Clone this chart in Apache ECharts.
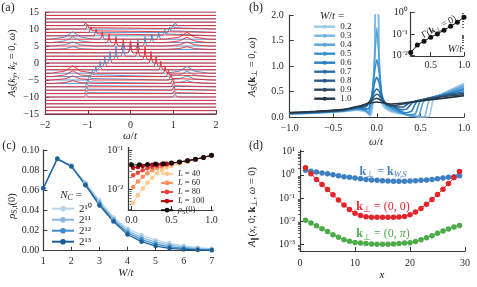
<!DOCTYPE html>
<html><head><meta charset="utf-8">
<script src="https://cdn.jsdelivr.net/npm/echarts@6/dist/echarts.min.js"></script>
<style>html,body{margin:0;padding:0;background:#fff}#c{width:477px;height:287px}</style>
</head><body><div id="c"></div>
<script>
// ---------------- Panel (a) ----------------
const aOffsets = [15,14,13,12,11,10,9,8,7,6,5,4,3,2,1,0,-1,-2,-3,-4,-5,-6,-7,-8,-9,-10,-11,-12,-13,-14,-15];
// [offset, omega, height, half-width]
const aRedPeaks = [
 [11,-1.05,0.8,0.045],[10,-1.0,1.3,0.05],[9,-0.92,1.6,0.05],[8,-0.8,1.9,0.05],[7,-0.66,2.2,0.05],
 [6,-0.5,2.5,0.05],[5,-0.34,2.8,0.05],[4,-0.17,3.1,0.05],[3,0.0,3.5,0.05],[2,0.17,3.9,0.05],
 [1,0.34,4.0,0.05],[0,0.48,3.4,0.05],[-1,0.6,2.9,0.05],[-2,0.71,2.5,0.05],[-3,0.81,2.1,0.05],
 [-4,0.89,1.8,0.05],[-5,0.95,1.5,0.05],[-6,0.99,1.3,0.05],[-7,1.01,1.1,0.055],[-8,1.02,1.0,0.055],
 [-9,1.03,0.9,0.055],[-10,1.04,0.8,0.055],
 [-3,-1.35,2.2,0.5],[-4,-1.35,1.7,0.5],[-5,-1.35,1.2,0.5],[-6,-1.35,0.8,0.5],
 [7,1.32,2.0,0.5],[6,1.32,1.6,0.5],[5,1.32,1.2,0.5],[4,1.32,0.8,0.5]
];
const aBluePeaks = [
 [11,1.05,0.8,0.045],[10,1.0,1.3,0.05],[9,0.92,1.6,0.05],[8,0.8,1.9,0.05],[7,0.66,2.2,0.05],
 [6,0.5,2.5,0.05],[5,0.34,2.8,0.05],[4,0.17,3.1,0.05],[3,0.0,3.5,0.05],[2,-0.17,3.9,0.05],
 [1,-0.34,4.0,0.05],[0,-0.48,3.4,0.05],[-1,-0.6,2.9,0.05],[-2,-0.71,2.5,0.05],[-3,-0.81,2.1,0.05],
 [-4,-0.89,1.8,0.05],[-5,-0.95,1.5,0.05],[-6,-0.99,1.3,0.05],[-7,-1.01,1.1,0.055],[-8,-1.02,1.0,0.055],
 [-9,-1.03,0.9,0.055],[-10,-1.04,0.8,0.055],
 [7,-1.35,2.2,0.5],[6,-1.35,1.7,0.5],[5,-1.35,1.2,0.5],[4,-1.35,0.8,0.5],
 [-3,1.32,2.0,0.5],[-4,1.32,1.6,0.5],[-5,1.32,1.2,0.5],[-6,1.32,0.8,0.5]
];
const peakShape = [[-1,0],[-0.35,0.3],[0,1],[0.35,0.3],[1,0]];

// ---------------- Panel (b) ----------------
const bW = ['0.2','0.3','0.4','0.5','0.6','0.7','0.8','0.9','1.0'];
const bColors = ['#9ccaea','#7ab7e2','#58a3d9','#3b91d0','#2781c4','#2a6ea4','#2d5b84','#2c4864','#263545'];
const bW02 = [[-1,0.06],[-0.7,0.08],[-0.4,0.11],[-0.22,0.14],[-0.12,0.1],[-0.07,0.03],[-0.04,0.3],[-0.02,1.6],[0,6],[0.02,1.6],[0.04,0.35],[0.08,0.2],[0.15,0.12],[0.3,0.06],[0.5,0.01],[0.6,0.02],[0.65,0.35],[0.8,0.5],[1,0.66]];
const bW03 = [[-1,0.065],[-0.7,0.085],[-0.4,0.115],[-0.22,0.15],[-0.12,0.12],[-0.08,0.04],[-0.05,0.3],[-0.025,1.4],[0,4],[0.025,1.4],[0.05,0.35],[0.09,0.22],[0.15,0.14],[0.3,0.07],[0.46,0.01],[0.55,0.02],[0.6,0.33],[0.8,0.49],[1,0.63]];
const bW04 = [[-1,0.07],[-0.7,0.09],[-0.4,0.12],[-0.22,0.16],[-0.13,0.13],[-0.09,0.06],[-0.06,0.3],[-0.03,1.0],[0,1.75],[0.03,1.0],[0.06,0.35],[0.1,0.24],[0.16,0.16],[0.28,0.08],[0.4,0.02],[0.48,0.03],[0.54,0.32],[0.8,0.48],[1,0.6]];
const bW05 = [[-1,0.072],[-0.7,0.093],[-0.4,0.125],[-0.22,0.17],[-0.14,0.15],[-0.1,0.1],[-0.06,0.4],[-0.03,0.85],[0,1.13],[0.03,0.85],[0.06,0.4],[0.1,0.25],[0.17,0.18],[0.27,0.1],[0.36,0.05],[0.44,0.06],[0.5,0.32],[0.8,0.46],[1,0.57]];
const bW06 = [[-1,0.075],[-0.7,0.097],[-0.4,0.13],[-0.22,0.18],[-0.14,0.17],[-0.1,0.16],[-0.06,0.4],[-0.03,0.65],[0,0.78],[0.03,0.65],[0.06,0.42],[0.1,0.26],[0.18,0.2],[0.26,0.13],[0.33,0.09],[0.4,0.12],[0.46,0.31],[0.8,0.45],[1,0.54]];
const bW07 = [[-1,0.08],[-0.7,0.1],[-0.4,0.135],[-0.2,0.19],[-0.12,0.21],[-0.07,0.35],[-0.03,0.5],[0,0.55],[0.03,0.5],[0.07,0.35],[0.12,0.25],[0.2,0.2],[0.28,0.15],[0.34,0.16],[0.42,0.3],[0.8,0.44],[1,0.5]];
const bW08 = [[-1,0.085],[-0.7,0.105],[-0.4,0.14],[-0.2,0.2],[-0.12,0.24],[-0.06,0.36],[-0.03,0.42],[0,0.45],[0.03,0.42],[0.07,0.33],[0.12,0.25],[0.2,0.21],[0.3,0.2],[0.38,0.29],[0.8,0.43],[1,0.47]];
const bW09 = [[-1,0.09],[-0.7,0.11],[-0.4,0.145],[-0.2,0.21],[-0.1,0.28],[-0.05,0.34],[0,0.37],[0.05,0.33],[0.1,0.27],[0.2,0.23],[0.3,0.26],[0.5,0.33],[0.8,0.41],[1,0.44]];
const bW10 = [[-1,0.095],[-0.7,0.115],[-0.4,0.15],[-0.2,0.22],[-0.1,0.27],[0,0.3],[0.08,0.28],[0.15,0.26],[0.3,0.28],[0.5,0.32],[0.8,0.38],[1,0.42]];
const bCurves = [bW02,bW03,bW04,bW05,bW06,bW07,bW08,bW09,bW10];
const bInsetW = [0.2,0.3,0.4,0.5,0.6,0.7,0.8,0.9,1.0];
const bInsetGamma = [0.013,0.03,0.045,0.07,0.1,0.15,0.23,0.36,0.62];

// ---------------- Panel (c) ----------------
const cW = [1,1.5,2,2.5,3,3.5,4,4.5,5,5.5,6,6.5,7];
const cNames = ['2¹⁰','2¹¹','2¹²','2¹³'];
const cColors = ['#b9d3ea','#86b7de','#3d8dca','#1c5e98'];
const cN10 = [0.062,0.0912,0.0848,0.0675,0.050,0.033,0.022,0.0155,0.0105,0.0073,0.0048,0.0030,0.0020];
const cN11 = [0.062,0.0912,0.0843,0.0665,0.048,0.0315,0.020,0.013,0.0085,0.0055,0.0035,0.0021,0.0013];
const cN12 = [0.062,0.0912,0.0839,0.0657,0.0465,0.030,0.018,0.011,0.0065,0.0038,0.0023,0.0013,0.0008];
const cN13 = [0.062,0.0912,0.0836,0.065,0.045,0.029,0.016,0.009,0.0046,0.0023,0.0013,0.0008,0.0005];
const cSeries = [cN10,cN11,cN12,cN13];
const cInsetX = [0.02,0.08,0.14,0.2,0.26,0.32,0.38,0.44,0.5,0.6,0.7,0.8,0.9,1.0];
const cL40 = [0.0045,0.007,0.0105,0.015,0.02,0.026,0.031,0.036,0.04,0.046,0.052,0.059,0.067,0.076];
const cL60 = [0.0115,0.016,0.021,0.026,0.031,0.035,0.039,0.042,0.045,0.05,0.055,0.06,0.067,0.076];
const cL80 = [0.023,0.027,0.031,0.035,0.038,0.041,0.043,0.045,0.047,0.051,0.055,0.06,0.067,0.076];
const cL100 = [0.036,0.038,0.04,0.042,0.043,0.044,0.045,0.046,0.048,0.051,0.055,0.06,0.067,0.076];
const cInsetNames = ['L40','L60','L80','L100'];
const cInsetColors = ['#fdca8b','#fc8e5a','#e8453c','#b5000f'];
const cInsetSeries = [cL40,cL60,cL80,cL100];
const cRhoX = [0,0.1,0.2,0.3,0.4,0.5,0.6,0.7,0.8,0.9,1.0];
const cRho = [0.043,0.043,0.044,0.045,0.046,0.048,0.051,0.055,0.06,0.067,0.076];

// ---------------- Panel (d) ----------------
const dX = [1,2,3,4,5,6,7,8,9,10,11,12,13,14,15,16,17,18,19,20,21,22,23,24,25,26,27,28,29];
const dBlue = [1.58,1.41,1.32,1.2,1.1,1.0,0.91,0.83,0.78,0.72,0.68,0.63,0.6,0.575,0.55,0.537,0.525,0.525,0.525,0.537,0.55,0.575,0.6,0.63,0.68,0.72,0.78,0.83,0.91];
const dRed = [2.0,1.12,0.63,0.38,0.23,0.138,0.081,0.05,0.0316,0.022,0.0174,0.0155,0.0148,0.0145,0.0145,0.0145,0.0148,0.0151,0.0158,0.019,0.025,0.035,0.054,0.085,0.141,0.24,0.417,0.76,1.38];
const dGreen = [0.011,0.0083,0.0063,0.0047,0.00355,0.0026,0.002,0.00158,0.00135,0.0012,0.00112,0.00107,0.00102,0.001,0.001,0.001,0.00102,0.00107,0.00112,0.00117,0.00132,0.00158,0.0019,0.00234,0.00295,0.0037,0.00457,0.0055,0.00646];

// ---------------- helpers ----------------
const FONT = 'Liberation Serif';
const TXT = '#262626';
const AX = '#3a3a3a';
const SUPC = {'-':'⁻','0':'⁰','1':'¹','2':'²','3':'³','4':'⁴','5':'⁵','6':'⁶','7':'⁷','8':'⁸','9':'⁹'};
const minus = s => String(s).replace('-', '−');
const logLab = v => '10' + String(Math.round(Math.log10(v))).split('').map(c => SUPC[c]).join('');
const lab = (fmt, margin, fs) => ({show:true, formatter: fmt, margin: margin, fontFamily: FONT, fontSize: fs || 10, color: TXT});
const line = {show:true, onZero:false, lineStyle:{color:AX, width:1.2}};
const tick = {show:true, inside:true, length:4, lineStyle:{color:AX, width:1}};
function minorList(lo, hi){ const r=[]; for(let e=-5;e<=1;e++){ for(let m=2;m<=9;m++){ const v=m*Math.pow(10,e); if(v>lo&&v<hi) r.push(v);} } return r; }
function rs(fs, extra){ return Object.assign({fontFamily:FONT, fontSize:fs, fill:TXT, color:TXT}, extra||{}); }
function richSet(fs, color){
  const c = color ? {fill:color,color:color} : {};
  const sf = fs*0.72;
  return {
    n: rs(fs,c), i: rs(fs,Object.assign({fontStyle:'italic'},c)), b: rs(fs,Object.assign({fontWeight:'bold'},c)),
    s: rs(sf,Object.assign({padding:[Math.round(fs*0.55),0,0,0]},c)),
    si: rs(sf,Object.assign({fontStyle:'italic',padding:[Math.round(fs*0.55),0,0,0]},c))
  };
}
function T(x, y, text, fs, opt){
  opt = opt || {};
  return {type:'text', x:x, y:y, rotation: opt.rot || 0, z: 100,
    style:{text:text, fontFamily:FONT, fontSize:fs, fill: opt.color || TXT, align:'center', verticalAlign:'middle', rich: richSet(fs, opt.color)}};
}
function buildTrace(o, peaks){
  const pts = [[-2, o]];
  peaks.filter(p => p[0] === o).sort((p,q) => p[1]-q[1]).forEach(p => {
    peakShape.forEach(s => pts.push([p[1] + s[0]*p[3], o + s[1]*p[2]]));
  });
  pts.push([2, o]);
  return pts;
}

const series = [];
const base = {type:'line', symbol:'none', animation:false, silent:true};
aOffsets.forEach(o => {
  series.push(Object.assign({}, base, {xAxisIndex:0, yAxisIndex:0, data: buildTrace(o, aBluePeaks), lineStyle:{color:'#4a86c5', width:0.9}}));
  series.push(Object.assign({}, base, {xAxisIndex:0, yAxisIndex:0, data: buildTrace(o, aRedPeaks), lineStyle:{color:'#e5262d', width:0.9}}));
});
bCurves.forEach((c,k) => series.push(Object.assign({}, base, {name: bW[k], xAxisIndex:1, yAxisIndex:1, data: c, smooth:0.15, color: bColors[k], lineStyle:{color:bColors[k], width:1.6}})));
series.push({type:'line', xAxisIndex:2, yAxisIndex:2, animation:false, data: bInsetW.map((w,k)=>[w,bInsetGamma[k]]), symbol:'circle', symbolSize:5, color:'#111', lineStyle:{color:'#111', width:1}, itemStyle:{color:'#111'}});
cSeries.forEach((s,k) => series.push({type:'line', name:cNames[k], xAxisIndex:3, yAxisIndex:3, animation:false, data: cW.map((w,j)=>[w,s[j]]), symbol:'circle', symbolSize:4.5, color:cColors[k], lineStyle:{color:cColors[k], width:1.2}, itemStyle:{color:cColors[k]}}));
cInsetSeries.forEach((s,k) => series.push({type:'line', name:cInsetNames[k], xAxisIndex:4, yAxisIndex:4, animation:false, data: cInsetX.map((x,j)=>[x,s[j]]), symbol:'circle', symbolSize:4.5, color:cInsetColors[k], lineStyle:{color:cInsetColors[k], width:1}, itemStyle:{color:cInsetColors[k]}}));
series.push({type:'line', name:'rho', xAxisIndex:4, yAxisIndex:4, animation:false, data: cRhoX.map((x,j)=>[x,cRho[j]]), symbol:'circle', symbolSize:5, color:'#111', lineStyle:{color:'#111', width:1}, itemStyle:{color:'#111'}});
[[dBlue,'#3d7fc1'],[dRed,'#e3242b'],[dGreen,'#4daa48']].forEach(([s,col]) => series.push({type:'line', xAxisIndex:5, yAxisIndex:5, animation:false, data: dX.map((x,j)=>[x,s[j]]), symbol:'circle', symbolSize:5.5, color:col, lineStyle:{color:col, width:1}, itemStyle:{color:col}}));

const G = (l,t,w,h,extra) => Object.assign({left:l, top:t, width:w, height:h, outerBoundsMode:'none', containLabel:false}, extra||{});
const grids = [
  G(45,12,171,102),
  G(289.7,15,174.3,102.3),
  G(410.7,12.3,53.3,43.7),
  G(43.3,150,168.4,100.7),
  G(128.3,147.3,84.8,62.7,{show:true, backgroundColor:'#fff', borderWidth:0}),
  G(300,150,165,101)
];
const xAxes = [
  {gridIndex:0, type:'value', min:-2, max:2, interval:1, axisLine:line, axisTick:tick, splitLine:{show:false}, axisLabel:lab(v=>minus(v),6)},
  {gridIndex:1, type:'value', min:-1, max:1, interval:0.5, axisLine:line, axisTick:tick, splitLine:{show:false}, axisLabel:lab(v=>minus(v.toFixed(1)),6)},
  {gridIndex:2, type:'value', min:0.2, max:1.0, axisLine:line, axisTick:Object.assign({},tick,{customValues:[0.5,1.0]}), splitLine:{show:false}, axisLabel:Object.assign(lab(v=>v.toFixed(1),4),{customValues:[0.5,1.0]})},
  {gridIndex:3, type:'value', min:1, max:7, interval:1, axisLine:line, axisTick:tick, splitLine:{show:false}, axisLabel:lab(v=>String(v),6)},
  {gridIndex:4, type:'value', min:-0.04, max:1.02, axisLine:line, axisTick:Object.assign({},tick,{customValues:[0,0.5,1.0]}), splitLine:{show:false}, axisLabel:Object.assign(lab(v=>v.toFixed(1),5),{customValues:[0,0.5,1.0]})},
  {gridIndex:5, type:'value', min:0, max:30, interval:10, axisLine:line, axisTick:tick, splitLine:{show:false}, axisLabel:lab(v=>String(v),7)}
];
const yAxes = [
  {gridIndex:0, type:'value', min:-15, max:15, interval:5, axisLine:line, axisTick:tick, splitLine:{show:false}, axisLabel:lab(v=>minus(v),6)},
  {gridIndex:1, type:'value', min:0, max:2, interval:0.5, axisLine:line, axisTick:tick, splitLine:{show:false}, axisLabel:lab(v=>v.toFixed(1),6)},
  {gridIndex:2, type:'log', min:0.009, max:1.05, axisLine:line, axisTick:Object.assign({},tick,{customValues:[0.01,0.1,1]}), splitLine:{show:false}, axisLabel:Object.assign(lab(logLab,3),{customValues:[0.01,0.1,1]})},
  {gridIndex:3, type:'value', min:0, max:0.1, interval:0.02, axisLine:line, axisTick:tick, splitLine:{show:false}, axisLabel:lab(v=>v.toFixed(2),4)},
  {gridIndex:4, type:'log', min:0.0029, max:0.1225, axisLine:line, axisTick:Object.assign({},tick,{customValues:[0.01,0.1]}), splitLine:{show:false}, axisLabel:Object.assign(lab(logLab,5),{customValues:[0.01,0.1]})},
  {gridIndex:5, type:'log', min:0.00051, max:11.8, axisLine:line, axisTick:Object.assign({},tick,{customValues:[0.001,0.01,0.1,1,10]}), splitLine:{show:false}, axisLabel:Object.assign(lab(logLab,5),{customValues:[0.001,0.01,0.1,1,10]})},
  {gridIndex:2, type:'log', min:0.009, max:1.05, axisLine:{show:false}, axisLabel:{show:false}, splitLine:{show:false}, axisTick:{show:true, inside:true, length:2, lineStyle:{color:AX,width:0.8}, customValues:minorList(0.009,1.05)}},
  {gridIndex:4, type:'log', min:0.0029, max:0.1225, axisLine:{show:false}, axisLabel:{show:false}, splitLine:{show:false}, axisTick:{show:true, inside:true, length:2, lineStyle:{color:AX,width:0.8}, customValues:minorList(0.0029,0.1225)}},
  {gridIndex:5, type:'log', min:0.00051, max:11.8, axisLine:{show:false}, axisLabel:{show:false}, splitLine:{show:false}, axisTick:{show:true, inside:true, length:2, lineStyle:{color:AX,width:0.8}, customValues:minorList(0.00051,11.8)}}
];

const legNames = {L40:'{i|L}{n| = 40}', L60:'{i|L}{n| = 60}', L80:'{i|L}{n| = 80}', L100:'{i|L}{n| = 100}', rho:'{i|ρ}{s|S}{n|(0)}'};
const legends = [
  {data:bW, orient:'vertical', left:313, top:22.2, itemWidth:21, itemHeight:5, itemGap:0, selectedMode:false, padding:0,
   lineStyle:{width:2.4}, textStyle:{fontFamily:FONT, fontSize:9, color:TXT, lineHeight:9}},
  {data:cNames, orient:'vertical', left:51, top:203.2, itemWidth:22, itemHeight:7, itemGap:0, selectedMode:false, padding:0,
   textStyle:{fontFamily:FONT, fontSize:11, color:TXT, lineHeight:9.7}},
  {data:['L40','L60','L80','L100','rho'], orient:'vertical', left:160, top:169.3, itemWidth:12, itemHeight:6, itemGap:0.1, selectedMode:false, padding:0,
   formatter: n => legNames[n], textStyle:{fontFamily:FONT, fontSize:8.5, color:TXT, lineHeight:8, rich: richSet(8.5)}}
];

const graphics = [
  T(8,8,'{n|(a)}',12), T(256,8,'{n|(b)}',12), T(9,146,'{n|(c)}',12), T(256,146,'{n|(d)}',12),
  T(12.5,63,'{i|A}{s|S}{n|(}{i|k}{si|y}{n|, }{i|k}{si|z}{n| = 0, }{i|ω}{n|)}',10.5,{rot:Math.PI/2}),
  T(130,136,'{i|ω}{n|/}{i|t}',11),
  T(252,67,'{i|A}{s|S}{n|(}{b|k}{s|⊥}{n| = 0, }{i|ω}{n|)}',10.5,{rot:Math.PI/2}),
  T(376,142,'{i|ω}{n|/}{i|t}',11),
  T(332,15.7,'{i|W}{n|/}{i|t}{n| =}',11),
  T(439,27,'{n|Γ(}{b|k}{s|⊥}{n| = 0)}',9.5,{rot:0.5}),
  T(455,49,'{i|W}{n|/}{i|t}',10.5),
  T(12,206,'{i|ρ}{s|S,t}{n|(0)}',10.5,{rot:Math.PI/2}),
  T(126,273,'{i|W}{n|/}{i|t}',11),
  T(71,195,'{i|N}{si|C}{n| =}',11),
  T(252,207,'{i|A}{s|∥}{n|(}{i|x}{n|, 0; }{b|k}{s|⊥}{n|, }{i|ω}{n| = 0)}',10.5,{rot:Math.PI/2}),
  T(382,275,'{i|x}',11),
  T(383,171.5,'{b|k}{s|⊥}{n| = }{b|k}{si|W,S}',12,{color:'#3d7fc1'}),
  T(383,206.5,'{b|k}{s|⊥}{n| = (0, 0)}',12,{color:'#e3242b'}),
  T(383,234.3,'{b|k}{s|⊥}{n| = (0, }{i|π}{n|)}',12,{color:'#4daa48'})
];

const chart = echarts.init(document.getElementById('c'), null, {renderer:'canvas'});
chart.setOption({
  animation:false, backgroundColor:'#fff',
  grid: grids, xAxis: xAxes, yAxis: yAxes, series: series, legend: legends, graphic: graphics
});
</script></body></html>
